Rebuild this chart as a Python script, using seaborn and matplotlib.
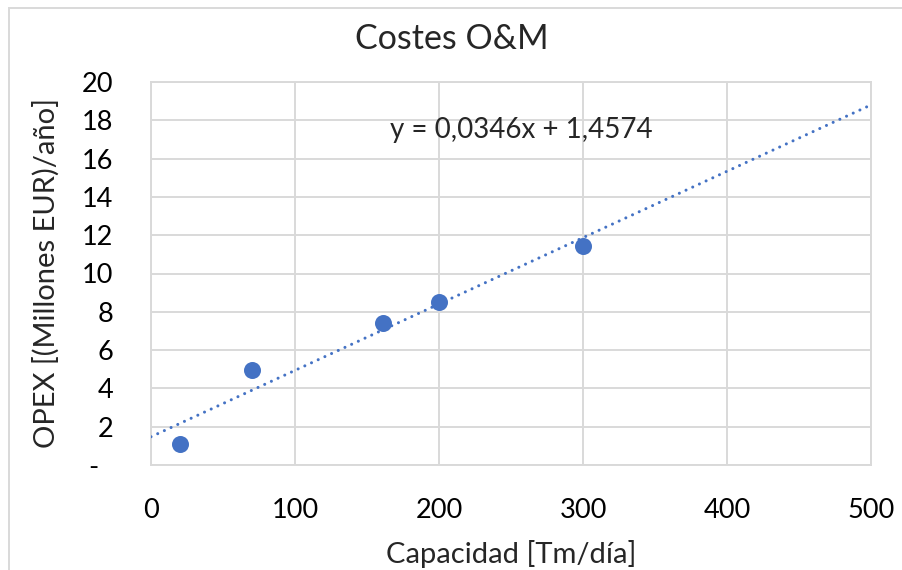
import matplotlib
matplotlib.use("Agg")
import matplotlib.pyplot as plt
import seaborn as sns
import pandas as pd
from matplotlib.patches import Rectangle

# Data
capacidad = [20, 70, 161, 200, 300]
opex = [1.1, 4.95, 7.4, 8.5, 11.45]
x_ticks = [0, 100, 200, 300, 400, 500]
y_ticks = [0, 2, 4, 6, 8, 10, 12, 14, 16, 18, 20]
y_tick_labels = ["-  ", "2", "4", "6", "8", "10", "12", "14", "16", "18", "20"]
title = "Costes O&M"
x_label = "Capacidad [Tm/día]"
y_label = "OPEX [(Millones EUR)/año]"
equation = "y = 0,0346x + 1,4574"

df = pd.DataFrame({"Capacidad": capacidad, "OPEX": opex})

sns.set_theme(style="white")
plt.rcParams["font.family"] = ["Lato", "DejaVu Sans"]

blue = "#4472C4"
grid = "#D9D9D9"

fig = plt.figure(figsize=(9.03, 5.70), dpi=100)
W, H = 903, 570
ax = fig.add_axes([151 / W, 1 - 465 / H, (871 - 151) / W, (465 - 82) / H])

ax.set_xlim(0, 500)
ax.set_ylim(0, 20)

sns.regplot(data=df, x="Capacidad", y="OPEX", ax=ax, scatter=False, ci=None,
            truncate=False,
            line_kws=dict(color=blue, lw=2.2, dashes=(0.01, 2.4),
                          dash_capstyle="round", zorder=3))
sns.scatterplot(data=df, x="Capacidad", y="OPEX", ax=ax, s=150, color=blue,
                edgecolor=blue, linewidth=0, zorder=4)

ax.set_xlim(0, 500)
ax.set_ylim(0, 20)
ax.set_xticks(x_ticks)
ax.set_yticks(y_ticks)
ax.set_yticklabels(y_tick_labels)
ax.grid(True, color=grid, lw=1.4)
ax.set_axisbelow(True)
for s in ax.spines.values():
    s.set_color(grid)
    s.set_linewidth(1.4)
ax.tick_params(axis="both", length=0, labelsize=19.5, colors="black")
ax.tick_params(axis="x", pad=24)
ax.tick_params(axis="y", pad=27)

ax.set_xlabel(x_label, fontsize=21, labelpad=12)
ax.set_ylabel(y_label, fontsize=21, labelpad=16)

ax.text(257, 17.5, equation, fontsize=20, ha="center", va="center")

fig.text(0.5, 1 - 39 / H, title, fontsize=24.5, ha="center", va="center")

fig.patches.append(Rectangle((9 / W, -0.1), 1.2, (1 - 8 / H) + 0.1,
                             transform=fig.transFigure, fill=False,
                             edgecolor=grid, lw=1.4))

fig.savefig("out.png", dpi=100)
